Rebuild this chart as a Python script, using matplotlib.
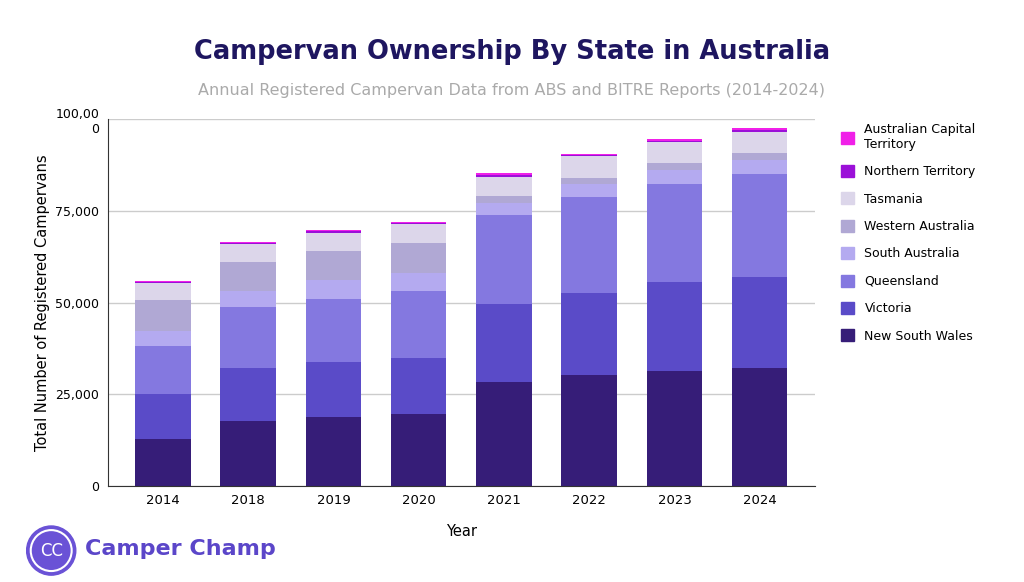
import matplotlib.pyplot as plt
from matplotlib.patches import Circle, Patch
import numpy as np

years = ["2014", "2018", "2019", "2020", "2021", "2022", "2023", "2024"]
states = ["New South Wales", "Victoria", "Queensland", "South Australia",
          "Western Australia", "Tasmania", "Northern Territory", "Australian Capital Territory"]

nsw = [12700, 17800, 18900, 19600, 28300, 30400, 31400, 32100]
vic = [12400, 14300, 14800, 15200, 21400, 22300, 24200, 25000]
qld = [13100, 16600, 17300, 18400, 24200, 26100, 26700, 28000]
sa = [4200, 4600, 5200, 4800, 3300, 3600, 3800, 3700]
wa = [8300, 7800, 7900, 8300, 1800, 1600, 2100, 2100]
tas = [4600, 4900, 5000, 5100, 5400, 5900, 5500, 5600]
nt = [300, 300, 350, 350, 450, 300, 450, 600]
act = [300, 300, 350, 350, 450, 300, 450, 600]

series = [nsw, vic, qld, sa, wa, tas, nt, act]
colors = ["#361d78", "#5a4bc8", "#8478e0", "#b4aaf0", "#b0a8d4", "#dcd6ea", "#9b10d8", "#f020e8"]

fig = plt.figure(figsize=(10.24, 5.82), dpi=100)
ax = fig.add_axes([0.105, 0.165, 0.691, 0.63])

x = np.arange(len(years))
bottom = np.zeros(len(years))
for vals, c, name in zip(series, colors, states):
    ax.bar(x, vals, 0.65, bottom=bottom, color=c, label=name)
    bottom += np.array(vals)

ax.set_xlim(-0.65, len(years) - 0.35)
ax.set_ylim(0, 100000)
ax.set_yticks([0, 25000, 50000, 75000, 100000])
ax.set_yticklabels(["0", "25,000", "50,000", "75,000", "100,00\n0"], fontsize=9)
ax.set_xticks(x)
ax.set_xticklabels(years, fontsize=9.5)
ax.tick_params(length=0, pad=6)
ax.grid(axis="y", color="#cccccc", linewidth=1)
ax.set_axisbelow(True)
for s in ["top", "right"]:
    ax.spines[s].set_visible(False)
ax.spines["left"].set_color("#333333")
ax.spines["bottom"].set_color("#333333")
ax.set_xlabel("Year", fontsize=10.5, labelpad=12)
ax.set_ylabel("Total Number of Registered Campervans", fontsize=10.5)

fig.text(0.5, 0.91, "Campervan Ownership By State in Australia", ha="center", va="center",
         fontsize=18.5, fontweight="bold", color="#1e1660")
fig.text(0.5, 0.845, "Annual Registered Campervan Data from ABS and BITRE Reports (2014-2024)",
         ha="center", va="center", fontsize=11.5, color="#aaaaaa")

handles = [Patch(color=c) for c in colors][::-1]
labels = ["Australian Capital\nTerritory", "Northern Territory", "Tasmania", "Western Australia",
          "South Australia", "Queensland", "Victoria", "New South Wales"]
fig.legend(handles, labels, loc="upper left", bbox_to_anchor=(0.81, 0.808), frameon=False,
           fontsize=9, handlelength=1.1, handleheight=1.1, labelspacing=1.13)

lax = fig.add_axes([0.025, 0.01, 0.05, 0.088])
lax.set_aspect("equal")
lax.axis("off")
lax.add_patch(Circle((0.5, 0.5), 0.48, color="#6a52d6"))
lax.add_patch(Circle((0.5, 0.5), 0.40, fill=False, ec="white", lw=1.5))
lax.text(0.5, 0.5, "CC", color="white", ha="center", va="center", fontsize=12)
lax.set_xlim(0, 1)
lax.set_ylim(0, 1)
fig.text(0.083, 0.057, "Camper Champ", fontsize=16, fontweight="bold", color="#5b46c9", va="center")

fig.savefig("out.png", dpi=100)
